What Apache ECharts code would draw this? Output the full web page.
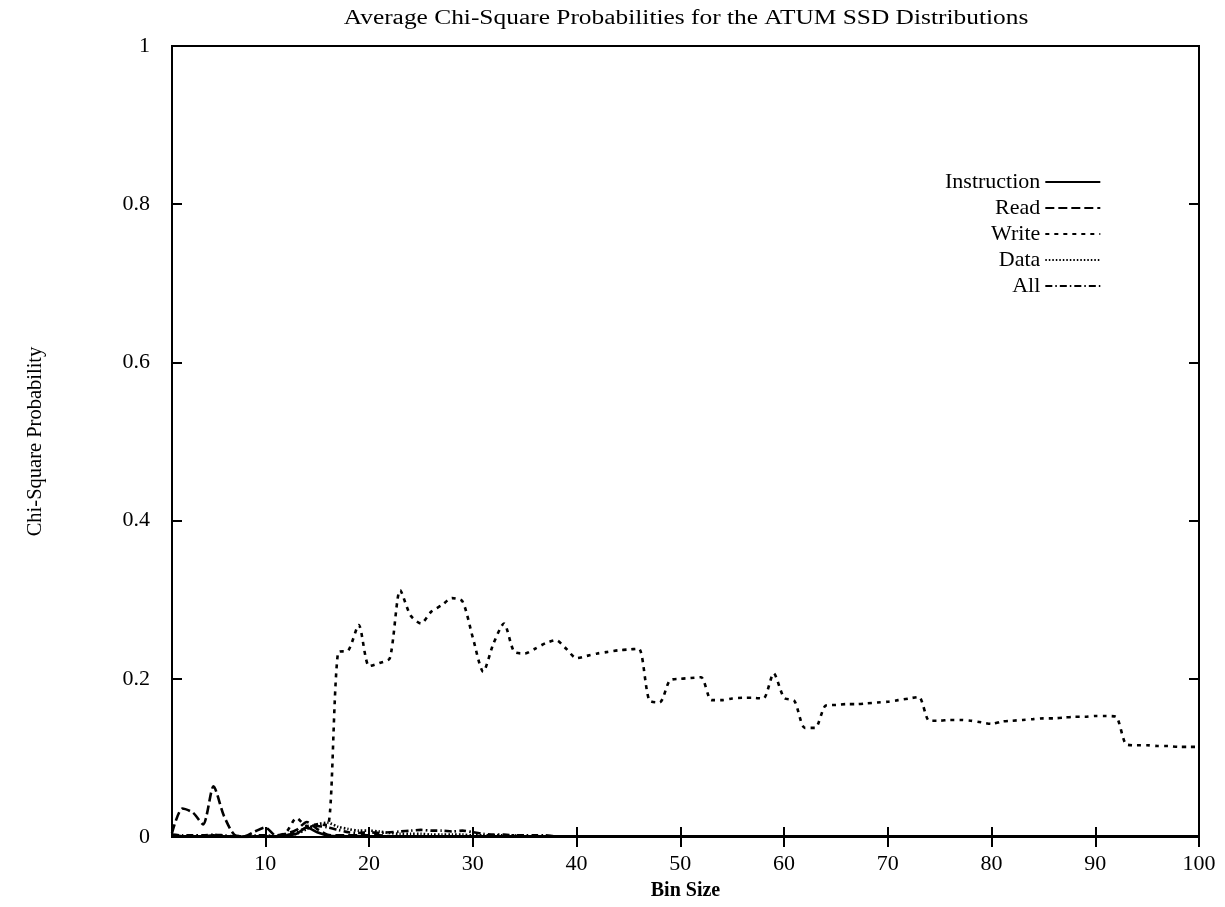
<!DOCTYPE html>
<html>
<head>
<meta charset="utf-8">
<title>Average Chi-Square Probabilities for the ATUM SSD Distributions</title>
<script src="https://cdn.jsdelivr.net/npm/echarts@6/dist/echarts.min.js"></script>
<style>
  html, body { margin: 0; padding: 0; background: #fff; }
  #chart { width: 1225px; height: 907px; }
</style>
</head>
<body>
<div id="chart"></div>
<script>
// Bin sizes on the x axis
const binSizes = [
  1, 2, 3, 4, 5, 6, 7, 8, 9, 10,
  11, 12, 13, 14, 15, 16, 17, 18, 19, 20,
  21, 22, 23, 24, 25, 26, 27, 28, 29, 30,
  31, 32, 33, 34, 35, 36, 37, 38, 39, 40,
  41, 42, 43, 44, 45, 46, 47, 48, 49, 50,
  51, 52, 53, 54, 55, 56, 57, 58, 59, 60,
  61, 62, 63, 64, 65, 66, 67, 68, 69, 70,
  71, 72, 73, 74, 75, 76, 77, 78, 79, 80,
  81, 82, 83, 84, 85, 86, 87, 88, 89, 90,
  91, 92, 93, 94, 95, 96, 97, 98, 99, 100
];

const xTicks = [10, 20, 30, 40, 50, 60, 70, 80, 90, 100];
const yTicks = [0, 0.2, 0.4, 0.6, 0.8, 1];

// Average chi-square probability per bin size, one list per trace
const instruction = [
  0.002, 0.001, 0.001, 0.001, 0.002, 0.001, 0.000, 0.000, 0.001, 0.001,
  0.000, 0.002, 0.004, 0.012, 0.006, 0.002, 0.001, 0.001, 0.001, 0.001,
  0.001, 0.001, 0.001, 0.001, 0.001, 0.001, 0.001, 0.001, 0.001, 0.001,
  0.001, 0.001, 0.001, 0.001, 0.001, 0.001, 0.001, 0.001, 0.001, 0.001,
  0.001, 0.001, 0.001, 0.001, 0.001, 0.001, 0.001, 0.001, 0.001, 0.001,
  0.001, 0.001, 0.001, 0.001, 0.001, 0.001, 0.001, 0.001, 0.001, 0.001,
  0.001, 0.001, 0.001, 0.001, 0.001, 0.001, 0.001, 0.001, 0.001, 0.001,
  0.001, 0.001, 0.001, 0.001, 0.001, 0.001, 0.001, 0.001, 0.001, 0.001,
  0.001, 0.001, 0.001, 0.001, 0.001, 0.001, 0.001, 0.001, 0.001, 0.001,
  0.001, 0.001, 0.001, 0.001, 0.001, 0.001, 0.001, 0.001, 0.001, 0.001
];

const read = [
  0.005, 0.036, 0.031, 0.016, 0.064, 0.027, 0.003, 0.001, 0.007, 0.012,
  0.002, 0.004, 0.009, 0.019, 0.010, 0.003, 0.002, 0.002, 0.002, 0.002,
  0.002, 0.001, 0.001, 0.001, 0.001, 0.001, 0.001, 0.001, 0.001, 0.001,
  0.001, 0.001, 0.001, 0.001, 0.001, 0.001, 0.001, 0.001, 0.001, 0.001,
  0.001, 0.001, 0.001, 0.001, 0.001, 0.001, 0.001, 0.001, 0.001, 0.001,
  0.001, 0.001, 0.001, 0.001, 0.001, 0.001, 0.001, 0.001, 0.001, 0.001,
  0.001, 0.001, 0.001, 0.001, 0.001, 0.001, 0.001, 0.001, 0.001, 0.001,
  0.001, 0.001, 0.001, 0.001, 0.001, 0.001, 0.001, 0.001, 0.001, 0.001,
  0.001, 0.001, 0.001, 0.001, 0.001, 0.001, 0.001, 0.001, 0.001, 0.001,
  0.001, 0.001, 0.001, 0.001, 0.001, 0.001, 0.001, 0.001, 0.001, 0.001
];

const write = [
  0.001, 0.001, 0.001, 0.001, 0.001, 0.001, 0.001, 0.001, 0.001, 0.001,
  0.001, 0.006, 0.024, 0.014, 0.016, 0.015, 0.233, 0.236, 0.268, 0.216,
  0.220, 0.226, 0.312, 0.280, 0.270, 0.285, 0.293, 0.302, 0.298, 0.252,
  0.209, 0.245, 0.270, 0.234, 0.232, 0.238, 0.245, 0.249, 0.238, 0.226,
  0.229, 0.232, 0.234, 0.236, 0.237, 0.238, 0.173, 0.170, 0.198, 0.200,
  0.201, 0.202, 0.173, 0.173, 0.175, 0.176, 0.176, 0.175, 0.207, 0.176,
  0.172, 0.138, 0.138, 0.166, 0.167, 0.168, 0.168, 0.169, 0.170, 0.171,
  0.173, 0.175, 0.177, 0.147, 0.147, 0.148, 0.148, 0.147, 0.145, 0.143,
  0.146, 0.147, 0.148, 0.149, 0.150, 0.150, 0.151, 0.152, 0.152, 0.153,
  0.153, 0.152, 0.117, 0.116, 0.116, 0.115, 0.115, 0.114, 0.114, 0.114
];

const data = [
  0.001, 0.001, 0.001, 0.001, 0.001, 0.001, 0.001, 0.001, 0.001, 0.001,
  0.001, 0.002, 0.004, 0.010, 0.016, 0.018, 0.013, 0.010, 0.008, 0.008,
  0.007, 0.005, 0.004, 0.004, 0.004, 0.003, 0.003, 0.003, 0.003, 0.002,
  0.002, 0.002, 0.002, 0.002, 0.001, 0.001, 0.001, 0.001, 0.001, 0.001,
  0.001, 0.001, 0.001, 0.001, 0.001, 0.001, 0.001, 0.001, 0.001, 0.001,
  0.001, 0.001, 0.001, 0.001, 0.001, 0.001, 0.001, 0.001, 0.001, 0.001,
  0.001, 0.001, 0.001, 0.001, 0.001, 0.001, 0.001, 0.001, 0.001, 0.001,
  0.001, 0.001, 0.001, 0.001, 0.001, 0.001, 0.001, 0.001, 0.001, 0.001,
  0.001, 0.001, 0.001, 0.001, 0.001, 0.001, 0.001, 0.001, 0.001, 0.001,
  0.001, 0.001, 0.001, 0.001, 0.001, 0.001, 0.001, 0.001, 0.001, 0.001
];

const all = [
  0.003, 0.002, 0.002, 0.002, 0.003, 0.002, 0.001, 0.001, 0.002, 0.002,
  0.001, 0.002, 0.006, 0.012, 0.014, 0.012, 0.009, 0.006, 0.005, 0.006,
  0.005, 0.006, 0.007, 0.008, 0.009, 0.008, 0.008, 0.007, 0.008, 0.006,
  0.004, 0.003, 0.003, 0.002, 0.002, 0.002, 0.002, 0.001, 0.001, 0.001,
  0.001, 0.001, 0.001, 0.001, 0.001, 0.001, 0.001, 0.001, 0.001, 0.001,
  0.001, 0.001, 0.001, 0.001, 0.001, 0.001, 0.001, 0.001, 0.001, 0.001,
  0.001, 0.001, 0.001, 0.001, 0.001, 0.001, 0.001, 0.001, 0.001, 0.001,
  0.001, 0.001, 0.001, 0.001, 0.001, 0.001, 0.001, 0.001, 0.001, 0.001,
  0.001, 0.001, 0.001, 0.001, 0.001, 0.001, 0.001, 0.001, 0.001, 0.001,
  0.001, 0.001, 0.001, 0.001, 0.001, 0.001, 0.001, 0.001, 0.001, 0.001
];

const seriesNames = ['Instruction', 'Read', 'Write', 'Data', 'All'];
const seriesValues = [instruction, read, write, data, all];
const dashPatterns = ['solid', [9, 4], [4, 5], [1.5, 2], [7, 3, 1.5, 3]];

const FONT = '"Liberation Serif", "DejaVu Serif", serif';
const TITLE = 'Average Chi-Square Probabilities for the ATUM SSD Distributions';

function pairs(values) {
  return binSizes.map((x, i) => [x, values[i]]);
}

const series = seriesNames.map((name, i) => ({
  name: name,
  type: 'line',
  data: pairs(seriesValues[i]),
  xAxisIndex: 0,
  yAxisIndex: 0,
  symbol: 'none',
  showSymbol: false,
  smooth: 0.25,
  silent: true,
  lineStyle: { color: '#000', width: 2.6, type: dashPatterns[i] },
  itemStyle: { color: '#000' },
  z: 3
}));

const chart = echarts.init(document.getElementById('chart'), null, { renderer: 'canvas' });

const baseAxisText = { color: '#000', fontFamily: FONT, fontSize: 22 };

chart.setOption({
  backgroundColor: '#fff',
  animation: false,
  textStyle: { fontFamily: FONT, color: '#000' },
  // title drawn as a graphic text so it can be widened like the typeset original
  graphic: [{
    type: 'text',
    x: 686,
    y: 19,
    scaleX: 1.27,
    scaleY: 1,
    silent: true,
    style: {
      text: TITLE,
      fontFamily: FONT,
      fontSize: 20,
      fill: '#000',
      align: 'center',
      verticalAlign: 'middle'
    }
  }],
  legend: {
    orient: 'vertical',
    align: 'right',
    left: 940,
    top: 166,
    itemWidth: 55,
    itemHeight: 14,
    itemGap: 4,
    data: seriesNames,
    itemStyle: { opacity: 0 },
    lineStyle: { width: 1.8 },
    textStyle: { fontFamily: FONT, fontSize: 22, color: '#000' },
    selectedMode: false
  },
  grid: {
    left: 172,
    right: 26,
    top: 46,
    bottom: 70,
    show: true,
    borderColor: '#000',
    borderWidth: 2,
    containLabel: false
  },
  xAxis: [
    {
      type: 'value',
      min: 1,
      max: 100,
      name: 'Bin Size',
      nameLocation: 'middle',
      nameGap: 44,
      nameTextStyle: { fontFamily: FONT, fontSize: 20, fontWeight: 'bold', color: '#000' },
      axisLine: { show: true, lineStyle: { color: '#000', width: 2 } },
      axisTick: { show: true, inside: true, length: 10, customValues: xTicks, lineStyle: { color: '#000', width: 2 } },
      axisLabel: Object.assign({ customValues: xTicks, margin: 16 }, baseAxisText),
      splitLine: { show: false }
    },
    {
      type: 'value',
      position: 'top',
      min: 1,
      max: 100,
      axisLine: { show: true, lineStyle: { color: '#000', width: 2 } },
      axisTick: { show: true, inside: true, length: 10, customValues: xTicks, lineStyle: { color: '#000', width: 2 } },
      axisLabel: { show: false },
      splitLine: { show: false }
    }
  ],
  yAxis: [
    {
      type: 'value',
      min: 0,
      max: 1,
      interval: 0.2,
      name: 'Chi-Square Probability',
      nameLocation: 'middle',
      nameGap: 126,
      nameTextStyle: { fontFamily: FONT, fontSize: 20.5, color: '#000' },
      axisLine: { show: true, lineStyle: { color: '#000', width: 2 } },
      axisTick: { show: true, inside: true, length: 10, lineStyle: { color: '#000', width: 2 } },
      axisLabel: Object.assign({ margin: 22, customValues: yTicks }, baseAxisText),
      splitLine: { show: false }
    },
    {
      type: 'value',
      position: 'right',
      min: 0,
      max: 1,
      interval: 0.2,
      axisLine: { show: true, lineStyle: { color: '#000', width: 2 } },
      axisTick: { show: true, inside: true, length: 10, lineStyle: { color: '#000', width: 2 } },
      axisLabel: { show: false },
      splitLine: { show: false }
    }
  ],
  series: series
});
</script>
</body>
</html>
